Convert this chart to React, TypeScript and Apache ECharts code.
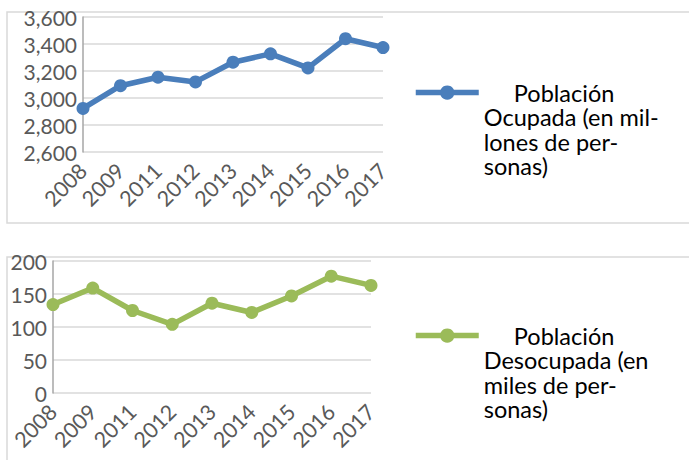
import React, { useEffect, useRef } from "react";
import * as echarts from "echarts";

const years = ["2008", "2009", "2011", "2012", "2013", "2014", "2015", "2016", "2017"];
const ocupada = [2923, 3091, 3154, 3119, 3265, 3327, 3223, 3439, 3374];
const desocupada = [134, 159, 125, 104, 136, 122, 147, 177, 163];
const nameOcupada = "Población Ocupada (en millones de personas)";
const nameDesocupada = "Población Desocupada (en miles de personas)";
const legendOcupada = " \n \n \n     Población\nOcupada (en mil-\nlones de per-\nsonas)";
const legendDesocupada = " \n \n \n     Población\nDesocupada (en\nmiles de per-\nsonas)";

const FONT = "Lato";
const TICK = "#595959";
const GRIDC = "#d9d9d9";
const BLUE = "#4a7ebb";
const GREEN = "#9bbb59";

export default function App() {
  const ref = useRef<HTMLDivElement>(null);
  useEffect(() => {
    const chart = echarts.init(ref.current!, null, { renderer: "svg" });
    const axisLabel = { color: TICK, fontFamily: FONT, fontSize: 21.5, rotate: 45, margin: 15, interval: 0 };
    const yLabel = {
      color: TICK,
      fontFamily: FONT,
      fontSize: 21,
      margin: 6,
      formatter: (v: number) => v.toLocaleString("en-US"),
    };
    const legendText = {
      color: "#000",
      fontFamily: FONT,
      fontSize: 23.5,
      lineHeight: 24.6,
    };
    chart.setOption({
      animation: false,
      backgroundColor: "#fff",
      graphic: [
        { type: "rect", shape: { x: 7, y: 12, width: 690, height: 211 }, style: { fill: "none", stroke: GRIDC, lineWidth: 1.5 } },
        { type: "rect", shape: { x: 7, y: 257, width: 690, height: 230 }, style: { fill: "none", stroke: GRIDC, lineWidth: 1.5 } },
      ],
      grid: [
        { left: 83, top: 17, right: 306, bottom: 308 },
        { left: 53, top: 261, right: 318, bottom: 67 },
      ],
      xAxis: [
        {
          gridIndex: 0, type: "category", data: years, boundaryGap: false,
          axisLine: { show: false }, axisTick: { show: false }, axisLabel,
        },
        {
          gridIndex: 1, type: "category", data: years, boundaryGap: false,
          axisLine: { show: false }, axisTick: { show: false }, axisLabel,
        },
      ],
      yAxis: [
        {
          gridIndex: 0, type: "value", min: 2600, max: 3600, interval: 200,
          axisLine: { show: true, lineStyle: { color: "#a6a6a6", width: 1.5 } },
          splitLine: { lineStyle: { color: GRIDC, width: 1.5 } },
          axisLabel: yLabel,
        },
        {
          gridIndex: 1, type: "value", min: 0, max: 200, interval: 50,
          axisLine: { show: true, lineStyle: { color: "#a6a6a6", width: 1.5 } },
          splitLine: { lineStyle: { color: GRIDC, width: 1.5 } },
          axisLabel: yLabel,
        },
      ],
      legend: [
        {
          data: [nameOcupada], left: 413, top: 6.5, padding: 0,
          itemWidth: 63, itemHeight: 18, itemGap: 0,
          lineStyle: { width: 5.5 },
          formatter: () => legendOcupada, textStyle: legendText,
        },
        {
          data: [nameDesocupada], left: 413, top: 249.5, padding: 0,
          itemWidth: 63, itemHeight: 18, itemGap: 0,
          lineStyle: { width: 5.5 },
          formatter: () => legendDesocupada, textStyle: legendText,
        },
      ],
      series: [
        {
          name: nameOcupada, type: "line", xAxisIndex: 0, yAxisIndex: 0, data: ocupada,
          symbol: "circle", symbolSize: 13,
          lineStyle: { color: BLUE, width: 5.5 }, itemStyle: { color: BLUE },
        },
        {
          name: nameDesocupada, type: "line", xAxisIndex: 1, yAxisIndex: 1, data: desocupada,
          symbol: "circle", symbolSize: 13,
          lineStyle: { color: GREEN, width: 5.5 }, itemStyle: { color: GREEN },
        },
      ],
    });
    return () => chart.dispose();
  }, []);
  return <div ref={ref} style={{ position: "fixed", left: 0, top: 0, width: 689, height: 460 }} />;
}
